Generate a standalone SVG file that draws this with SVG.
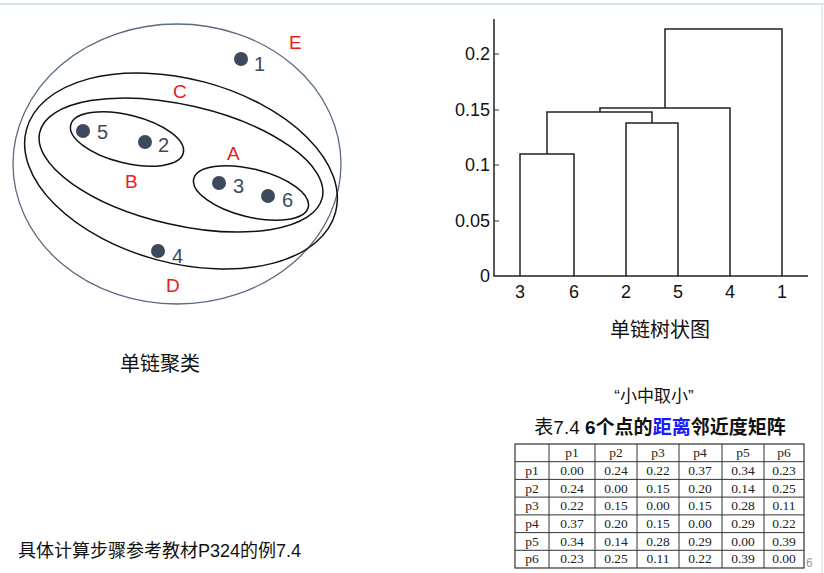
<svg xmlns="http://www.w3.org/2000/svg" width="824" height="573" viewBox="0 0 824 573">
<style>
.s{font-family:"Liberation Sans","Noto Sans CJK SC",sans-serif}
.r{fill:#e8201c;font-size:19px}
.n{fill:#3c4a5e;font-size:20px}
.dot{fill:#3d4a5e}
.el{fill:none;stroke:#111;stroke-width:1.5}
.dg{fill:none;stroke:#222;stroke-width:1.5}
.ax{font-size:18px;fill:#111}
.t{font-family:"Liberation Serif",serif;font-size:13.5px;fill:#222;text-anchor:middle}
.g{stroke:#333;stroke-width:1;fill:none}
</style>
<rect width="824" height="573" fill="#fff"/>
<line x1="0" y1="4" x2="824" y2="4" stroke="#d4e2f2" stroke-width="2"/>
<line x1="822" y1="4" x2="822" y2="573" stroke="#e4ecf6" stroke-width="2"/>
<g id="clusters">
<ellipse cx="177" cy="164" rx="164" ry="140" fill="none" stroke="#5a6a80" stroke-width="1.3"/>
<ellipse class="el" cx="0" cy="0" rx="160" ry="92" transform="translate(181,171) rotate(15)"/>
<ellipse class="el" cx="0" cy="0" rx="145" ry="60" transform="translate(181,165) rotate(13)"/>
<ellipse class="el" cx="0" cy="0" rx="58" ry="24" transform="translate(127,139) rotate(14)"/>
<ellipse class="el" cx="0" cy="0" rx="59" ry="24" transform="translate(251,193) rotate(14)"/>
</g>
<g id="points" class="s">
<circle class="dot" cx="241" cy="59" r="7"/><text class="n" x="254" y="71">1</text>
<circle class="dot" cx="83" cy="131" r="7"/><text class="n" x="97" y="139">5</text>
<circle class="dot" cx="145" cy="142" r="7"/><text class="n" x="158" y="152">2</text>
<circle class="dot" cx="219" cy="183" r="7"/><text class="n" x="233" y="193">3</text>
<circle class="dot" cx="268" cy="196" r="7"/><text class="n" x="282" y="207">6</text>
<circle class="dot" cx="158" cy="251" r="7"/><text class="n" x="172" y="263">4</text>
</g>
<g id="labels" class="s">
<text class="r" x="289" y="49">E</text>
<text class="r" x="173" y="98">C</text>
<text class="r" x="125" y="188">B</text>
<text class="r" x="227" y="160">A</text>
<text class="r" x="166" y="292">D</text>
<text x="160" y="371" font-size="20" text-anchor="middle" fill="#111">单链聚类</text>
</g>
<g id="dendrogram" class="s">
<path class="dg" d="M494,19 V276 H808"/>
<path class="g" d="M494,54 h5 M494,110 h5 M494,165 h5 M494,221 h5"/>
<g class="ax" text-anchor="end">
<text x="490" y="60">0.2</text><text x="490" y="116">0.15</text><text x="490" y="171">0.1</text><text x="490" y="227">0.05</text><text x="490" y="282">0</text>
</g>
<g class="ax" text-anchor="middle">
<text x="520" y="298">3</text><text x="574" y="298">6</text><text x="626" y="298">2</text><text x="678" y="298">5</text><text x="730" y="298">4</text><text x="782" y="298">1</text>
</g>
<path class="dg" d="M520,276 V154 H574 V276 M626,276 V123 H678 V276 M547,154 V112 H652 V123 M600,112 V108 H730 V276 M665,108 V29 H782 V276"/>
<text x="660" y="337" font-size="20" text-anchor="middle" fill="#111">单链树状图</text>
</g>
<g id="table" class="s">
<text x="654" y="402" font-size="17" text-anchor="middle" fill="#111">“小中取小”</text>
<text x="660" y="434" font-size="19" text-anchor="middle" fill="#111">表7.4 <tspan font-weight="bold">6个点的</tspan><tspan font-weight="bold" fill="#1a1aff">距离</tspan><tspan font-weight="bold">邻近度矩阵</tspan></text>
<rect x="515" y="444" width="289" height="124" fill="none" stroke="#333" stroke-width="1.2"/>
<path class="g" d="M549,444V568 M595,444V568 M637,444V568 M679,444V568 M722,444V568 M764,444V568 M515,461.7H804 M515,479.4H804 M515,497.1H804 M515,514.9H804 M515,532.6H804 M515,550.3H804"/>
<g class="t">
<text x="572" y="457">p1</text><text x="616" y="457">p2</text><text x="658" y="457">p3</text><text x="700" y="457">p4</text><text x="743" y="457">p5</text><text x="784" y="457">p6</text>
<text x="532" y="475">p1</text><text x="572" y="475">0.00</text><text x="616" y="475">0.24</text><text x="658" y="475">0.22</text><text x="700" y="475">0.37</text><text x="743" y="475">0.34</text><text x="784" y="475">0.23</text>
<text x="532" y="493">p2</text><text x="572" y="493">0.24</text><text x="616" y="493">0.00</text><text x="658" y="493">0.15</text><text x="700" y="493">0.20</text><text x="743" y="493">0.14</text><text x="784" y="493">0.25</text>
<text x="532" y="510">p3</text><text x="572" y="510">0.22</text><text x="616" y="510">0.15</text><text x="658" y="510">0.00</text><text x="700" y="510">0.15</text><text x="743" y="510">0.28</text><text x="784" y="510">0.11</text>
<text x="532" y="528">p4</text><text x="572" y="528">0.37</text><text x="616" y="528">0.20</text><text x="658" y="528">0.15</text><text x="700" y="528">0.00</text><text x="743" y="528">0.29</text><text x="784" y="528">0.22</text>
<text x="532" y="546">p5</text><text x="572" y="546">0.34</text><text x="616" y="546">0.14</text><text x="658" y="546">0.28</text><text x="700" y="546">0.29</text><text x="743" y="546">0.00</text><text x="784" y="546">0.39</text>
<text x="532" y="563">p6</text><text x="572" y="563">0.23</text><text x="616" y="563">0.25</text><text x="658" y="563">0.11</text><text x="700" y="563">0.22</text><text x="743" y="563">0.39</text><text x="784" y="563">0.00</text>
</g>
<text x="806" y="567" font-size="12" fill="#999">6</text>
</g>
<text class="s" x="18" y="557" font-size="18" fill="#111">具体计算步骤参考教材P324的例7.4</text>
</svg>
